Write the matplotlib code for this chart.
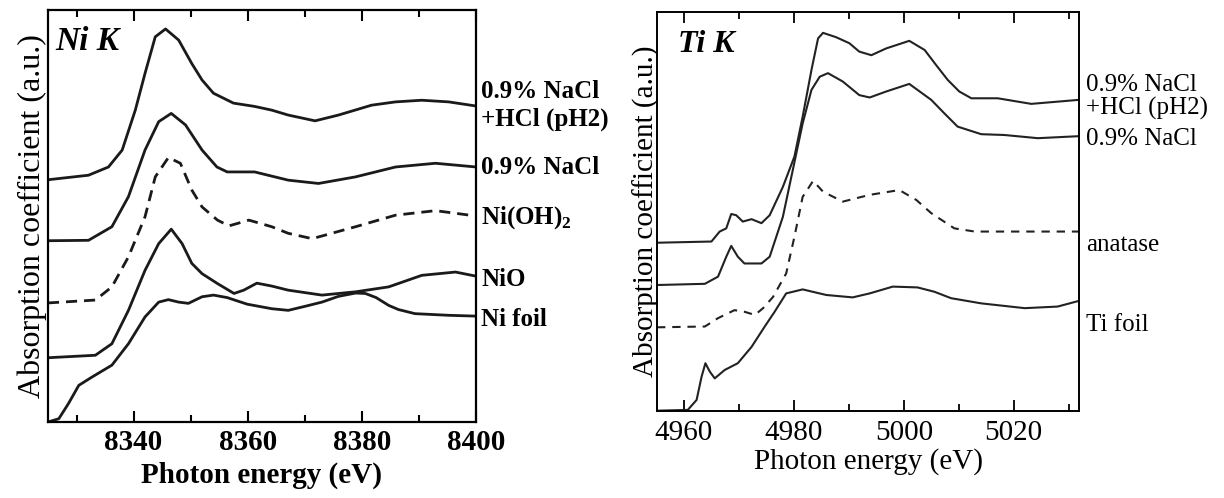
import numpy as np
import matplotlib
matplotlib.use("Agg")
import matplotlib.pyplot as plt
from matplotlib.ticker import MultipleLocator

plt.rcParams['font.family'] = ['Liberation Serif', 'DejaVu Serif']
plt.rcParams['mathtext.fontset'] = 'custom'
plt.rcParams['mathtext.rm'] = 'Liberation Serif'
plt.rcParams['mathtext.bf'] = 'Liberation Serif:bold'

# ---- Ni K-edge spectra (energy in eV, absorption in a.u., offset stacked) ----
ni_e_ph2 = [8325, 8332.1, 8335.6, 8338, 8340.3, 8342, 8343.8, 8345.6, 8347.9, 8350.2,
            8352, 8354, 8357.5, 8361.2, 8364.2, 8367.1, 8371.8, 8375.9, 8378.8, 8381.7,
            8385.9, 8390.5, 8395.2, 8400]
ni_y_ph2 = [5.88, 5.99, 6.19, 6.60, 7.57, 8.46, 9.35, 9.54, 9.27, 8.70,
            8.30, 7.98, 7.74, 7.66, 7.57, 7.45, 7.31, 7.45, 7.57, 7.69,
            7.77, 7.81, 7.77, 7.67]

ni_e_nacl = [8325, 8332.1, 8336.2, 8339.1, 8342, 8344.4, 8346.6, 8349.1, 8352,
             8354.6, 8356.4, 8361.2, 8367.1, 8372.4, 8378.9, 8385.9, 8392.9, 8400]
ni_y_nacl = [4.40, 4.41, 4.74, 5.47, 6.60, 7.29, 7.49, 7.21, 6.60,
             6.19, 6.07, 6.07, 5.87, 5.79, 5.95, 6.19, 6.28, 6.19]

ni_e_oh = [8325, 8333.3, 8336.2, 8339.1, 8342, 8343.8, 8346.1, 8348.2, 8350.2, 8352,
           8354.7, 8356.7, 8360.2, 8364.2, 8367.1, 8371.3, 8378.9, 8385.9, 8392.9, 8400]
ni_y_oh = [2.89, 2.96, 3.28, 4.01, 4.98, 5.95, 6.42, 6.28, 5.63, 5.22,
           4.90, 4.76, 4.90, 4.74, 4.58, 4.45, 4.74, 5.02, 5.13, 5.00]

ni_e_nio = [8325, 8333.3, 8336.2, 8339.1, 8342, 8344.4, 8346.6, 8348.5, 8350.2, 8352,
            8354.7, 8357.6, 8359.3, 8361.6, 8364.2, 8367.1, 8373, 8378.9, 8384.7,
            8390.5, 8396.4, 8400]
ni_y_nio = [1.56, 1.62, 1.90, 2.71, 3.68, 4.33, 4.68, 4.33, 3.85, 3.60,
            3.36, 3.12, 3.20, 3.37, 3.30, 3.20, 3.08, 3.16, 3.28,
            3.56, 3.64, 3.54]

ni_e_foil = [8325, 8326.9, 8328.6, 8330.4, 8332.7, 8336.2, 8339.1, 8342, 8344.4,
             8346.1, 8347.9, 8349.6, 8352, 8354, 8356.4, 8359.9, 8364.2, 8367.1,
             8370.1, 8373, 8375.9, 8378.9, 8380.6, 8382.5, 8384.7, 8386.4, 8389.3,
             8395.2, 8400]
ni_y_foil = [0.0, 0.08, 0.45, 0.89, 1.09, 1.38, 1.90, 2.55, 2.91,
             2.97, 2.91, 2.88, 3.04, 3.08, 3.02, 2.86, 2.75, 2.71,
             2.81, 2.91, 3.05, 3.13, 3.12, 3.02, 2.83, 2.73, 2.63,
             2.59, 2.57]

# ---- Ti K-edge spectra ----
ti_e_ph2 = [4955.1, 4965, 4966.5, 4967.7, 4968.6, 4969.5, 4970.7, 4972.3, 4974.1,
            4975.6, 4978, 4980.1, 4981.6, 4983.2, 4984.4, 4985.3, 4987.7, 4990.1,
            4991.9, 4994.1, 4996.8, 5001, 5003.8, 5005.9, 5008, 5010.1, 5012.3,
            5017.1, 5023.2, 5031.8]
ti_y_ph2 = [4.21, 4.24, 4.49, 4.57, 4.93, 4.90, 4.74, 4.80, 4.70,
            4.90, 5.61, 6.37, 7.37, 8.54, 9.33, 9.47, 9.36, 9.21,
            9.00, 8.91, 9.08, 9.27, 9.04, 8.66, 8.29, 8.00, 7.83,
            7.83, 7.69, 7.79]

ti_e_nacl = [4955.1, 4963.8, 4966.2, 4967.7, 4968.6, 4969.8, 4971, 4974.1, 4975.6,
             4978, 4979.8, 4981.6, 4983.2, 4984.7, 4986.2, 4988.9, 4991.9, 4993.8,
             4996.8, 5001, 5005, 5007.4, 5009.8, 5014.1, 5018.3, 5024.4, 5031.8]
ti_y_nacl = [3.15, 3.18, 3.36, 3.86, 4.13, 3.86, 3.69, 3.69, 3.86,
             4.86, 6.03, 7.20, 8.04, 8.37, 8.46, 8.25, 7.91, 7.85,
             8.00, 8.19, 7.79, 7.45, 7.12, 6.93, 6.91, 6.83, 6.88]

ti_e_anat = [4955.1, 4963.8, 4966.2, 4969.2, 4971, 4972.9, 4974.4, 4976.2, 4978.6,
             4980.1, 4981.6, 4983.5, 4985.3, 4988.9, 4993.8, 4999.2, 5002.3, 5005,
             5009.2, 5012.9, 5031.8]
ti_y_anat = [2.09, 2.11, 2.32, 2.52, 2.48, 2.40, 2.57, 2.85, 3.44,
             4.36, 5.36, 5.76, 5.49, 5.24, 5.41, 5.53, 5.28, 4.95,
             4.57, 4.49, 4.49]

ti_e_foil = [4955.1, 4960.7, 4962.3, 4963.2, 4963.9, 4964.7, 4965.6, 4967.4, 4969.8,
             4972.3, 4974.7, 4976.5, 4978.6, 4981.6, 4985.9, 4990.7, 4993.8, 4998,
             5002.5, 5005.6, 5008.6, 5014.1, 5022, 5028, 5031.8]
ti_y_foil = [0.0, 0.02, 0.27, 0.85, 1.19, 0.98, 0.81, 1.02, 1.19,
             1.60, 2.11, 2.48, 2.94, 3.04, 2.90, 2.84, 2.94, 3.11,
             3.09, 2.98, 2.82, 2.69, 2.57, 2.61, 2.75]

fig = plt.figure(figsize=(12.24, 4.98), dpi=100)

# ─── Ni K panel ───
ax1 = fig.add_axes([0.0392, 0.1526, 0.3497, 0.8273])
ink = '#1a1a1a'
lw1 = 2.0
ax1.plot(ni_e_ph2, ni_y_ph2, color=ink, lw=lw1)
ax1.plot(ni_e_nacl, ni_y_nacl, color=ink, lw=lw1)
ax1.plot(ni_e_oh, ni_y_oh, color=ink, lw=lw1, ls=(0, (4, 2.5)))
ax1.plot(ni_e_nio, ni_y_nio, color=ink, lw=lw1)
ax1.plot(ni_e_foil, ni_y_foil, color=ink, lw=lw1)
ax1.set_xlim(8325, 8400)
ax1.set_ylim(0, 10)
ax1.xaxis.set_major_locator(MultipleLocator(20))
ax1.xaxis.set_minor_locator(MultipleLocator(10))
ax1.set_yticks([])
ax1.tick_params(axis='x', which='both', direction='in', top=True, width=1.5)
ax1.tick_params(axis='x', which='major', length=8, labelsize=21, pad=5)
ax1.tick_params(axis='x', which='minor', length=5)
for lab in ax1.get_xticklabels():
    lab.set_fontweight('bold')
ax1.set_xlabel('Photon energy (eV)', fontsize=21, fontweight='bold', labelpad=4)
ax1.set_ylabel('Absorption coefficient (a.u.)', fontsize=23, labelpad=1)
for sp in ax1.spines.values():
    sp.set_linewidth(1.6)
ax1.text(0.018, 0.96, 'Ni K', transform=ax1.transAxes, fontsize=24,
         fontweight='bold', style='italic', va='top')

left_labels = [('0.9% NaCl', 92), ('+HCl (pH2)', 119), ('0.9% NaCl', 167),
               ('Ni(OH)$_\\mathbf{2}$', 218), ('NiO', 280), ('Ni foil', 320)]
for txt, py in left_labels:
    fig.text(481 / 1224, 1 - py / 498, txt, fontsize=18, fontweight='bold',
             va='center', ha='left')

# ─── Ti K panel ───
ax2 = fig.add_axes([0.5368, 0.1753, 0.3448, 0.8012])
ink2 = '#222222'
lw2 = 1.5
ax2.plot(ti_e_ph2, ti_y_ph2, color=ink2, lw=lw2)
ax2.plot(ti_e_nacl, ti_y_nacl, color=ink2, lw=lw2)
ax2.plot(ti_e_anat, ti_y_anat, color=ink2, lw=lw2, ls=(0, (4, 3.3)))
ax2.plot(ti_e_foil, ti_y_foil, color=ink2, lw=lw2)
ax2.set_xlim(4955.1, 5031.9)
ax2.set_ylim(0, 10)
ax2.xaxis.set_major_locator(MultipleLocator(20))
ax2.xaxis.set_minor_locator(MultipleLocator(10))
ax2.set_yticks([])
ax2.tick_params(axis='x', which='both', direction='in', top=True, width=1.3)
ax2.tick_params(axis='x', which='major', length=8, labelsize=21, pad=7)
ax2.tick_params(axis='x', which='minor', length=5)
ax2.set_xlabel('Photon energy (eV)', fontsize=21, labelpad=1)
ax2.set_ylabel('Absorption coefficient (a.u.)', fontsize=21, labelpad=-2)
for sp in ax2.spines.values():
    sp.set_linewidth(1.4)
ax2.text(0.05, 0.955, 'Ti K', transform=ax2.transAxes, fontsize=23,
         fontweight='bold', style='italic', va='top')

right_labels = [('0.9% NaCl', 85), ('+HCl (pH2)', 108), ('0.9% NaCl', 139),
                ('anatase', 245), ('Ti foil', 325)]
for txt, py in right_labels:
    fig.text(1086 / 1224, 1 - py / 498, txt, fontsize=18, va='center', ha='left')

fig.savefig('out.png', dpi=100, facecolor='white')
